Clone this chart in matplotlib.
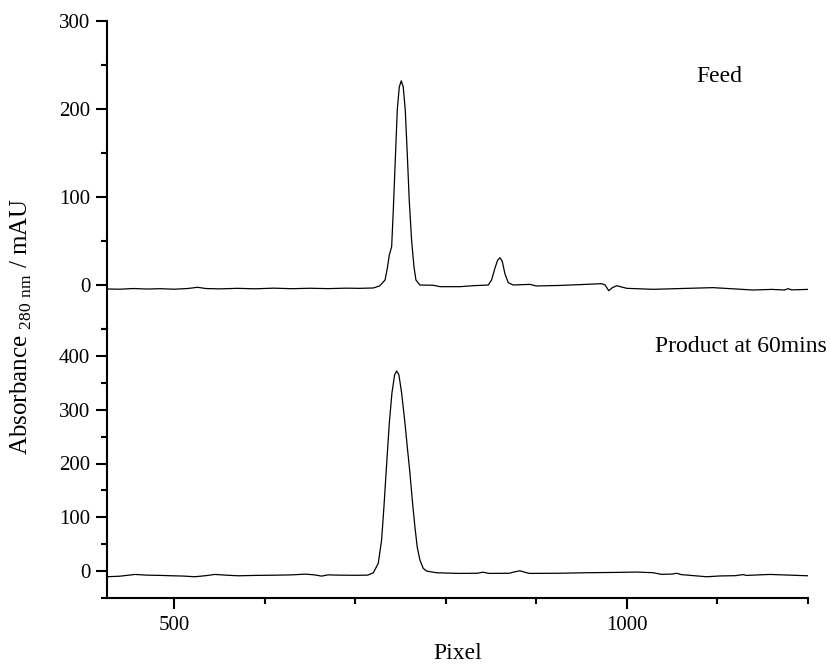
import matplotlib
matplotlib.use("Agg")
import matplotlib.pyplot as plt
from matplotlib.ticker import MultipleLocator

plt.rcParams['font.family'] = ['Liberation Serif', 'DejaVu Serif']
plt.rcParams['mathtext.fontset'] = 'custom'
plt.rcParams['mathtext.rm'] = 'Liberation Serif'

# Feed trace (pixel, mAU)
feed_x = [426, 440, 455, 470, 485, 500, 515, 526, 535, 550, 570, 590, 610, 630,
          650, 670, 690, 705, 720, 727, 733, 735.5, 737.7, 740.3, 742.1, 744.3,
          746.5, 748.7, 750.9, 753.1, 755.3, 757.5, 759.7, 762.3, 764.9, 767.1,
          771.5, 786, 794, 816, 830, 847, 850.6, 854.3, 857.2, 859.8, 862.4,
          865.3, 869, 874.5, 893, 900, 926, 950, 972, 976, 980, 984, 989, 995,
          1000, 1029, 1060, 1095, 1120, 1139, 1160, 1174, 1178, 1182, 1200]
feed_y = [-4.5, -4.8, -4.0, -4.6, -4.2, -4.8, -4.0, -2.6, -4.0, -4.4, -3.8, -4.3,
          -3.6, -4.2, -3.7, -4.1, -3.6, -3.8, -3.4, -1.1, 5.7, 19, 34, 43.5, 85,
          142, 199, 225, 232, 225, 199, 150, 96.6, 51, 21, 5.7, 0, -0.3, -1.9,
          -1.9, -0.8, 0, 5.7, 19, 28, 31, 27, 13, 2.7, 0, 0.7, -1.1, -0.5, 0.5,
          1.5, 0, -6.5, -3, -0.8, -2.5, -3.8, -4.9, -4.0, -3.0, -4.5, -5.7, -5.0,
          -5.7, -4.2, -5.5, -5.0]

# Product at 60 mins trace
prod_x = [426, 440, 457, 470, 485, 498, 510, 523, 535, 545, 560, 571, 590, 615,
          630, 645, 655, 663, 670, 681, 700, 714, 720, 725.5, 729.2, 731.8, 734.8,
          737.7, 740.6, 743.6, 745.8, 748.3, 751.3, 755, 757.9, 760.5, 763.4, 766,
          768.5, 771.5, 775.2, 779, 790, 815, 835, 841, 848, 870, 876, 882, 888,
          893, 925, 956, 985, 1011, 1029, 1038, 1050, 1055, 1060, 1088, 1103,
          1120, 1128, 1132, 1158, 1180, 1200]
prod_y = [-10.5, -9.5, -6.2, -7.5, -8.0, -8.7, -9.2, -10.5, -8.5, -6.2, -7.8, -8.7,
          -8.0, -7.5, -7.0, -5.6, -7.0, -9.3, -7.0, -7.5, -7.8, -7.5, -3.1, 14.3,
          57.7, 120, 200, 275, 331, 365, 372, 365, 331, 275, 225, 182, 126, 82,
          45, 20.5, 5, 0, -3.1, -4.3, -4.0, -2.0, -4.3, -4.0, -1.5, 0.6, -2.5,
          -4.3, -4.0, -3.0, -2.5, -1.8, -3.0, -6.0, -5.5, -4.0, -6.5, -10.5,
          -9.0, -8.5, -6.5, -8.0, -6.2, -7.5, -8.7]

fig = plt.figure(figsize=(8.31, 6.67), dpi=100)
left, width = 107 / 831, 701 / 831
ax1 = fig.add_axes([left, 1 - 329 / 667, width, 308 / 667])
ax2 = fig.add_axes([left, 1 - 598 / 667, width, 269 / 667])

for ax in (ax1, ax2):
    ax.set_xlim(426, 1200)
    ax.spines['top'].set_visible(False)
    ax.spines['right'].set_visible(False)
    ax.spines['left'].set_linewidth(1.5)
    ax.spines['bottom'].set_linewidth(1.5)
    ax.yaxis.set_major_locator(MultipleLocator(100))
    ax.yaxis.set_minor_locator(MultipleLocator(50))
    ax.tick_params(axis='y', which='major', direction='out', length=8, width=1.5,
                   labelsize=15, pad=4)
    ax.tick_params(axis='y', which='minor', direction='out', length=4.5, width=1.5)
    ax.patch.set_alpha(0)

ax1.plot(feed_x, feed_y, color='black', lw=0.9)
ax1.set_ylim(-50, 300)
ax1.spines['bottom'].set_visible(False)
ax1.tick_params(axis='x', which='both', bottom=False, labelbottom=False)
ax1.text(1077, 237, 'Feed', fontsize=17, va='center', ha='left')

ax2.plot(prod_x, prod_y, color='black', lw=0.9)
ax2.set_ylim(-50, 450)
ax2.xaxis.set_major_locator(MultipleLocator(500))
ax2.xaxis.set_minor_locator(MultipleLocator(100))
ax2.tick_params(axis='x', which='major', direction='out', length=8, width=1.5,
                labelsize=15, pad=5)
ax2.tick_params(axis='x', which='minor', direction='out', length=4.5, width=1.5)
ax2.set_xlabel('Pixel', fontsize=17, labelpad=6)
ax2.text(1031, 418, 'Product at 60mins', fontsize=17, va='center', ha='left',
         clip_on=False)

fig.text(0.026, 1 - 326 / 667, r'Absorbance ${}_{\mathrm{280\ nm}}$ / mAU',
         rotation=90, fontsize=18, va='center', ha='center')

fig.savefig('out.png', dpi=100)
